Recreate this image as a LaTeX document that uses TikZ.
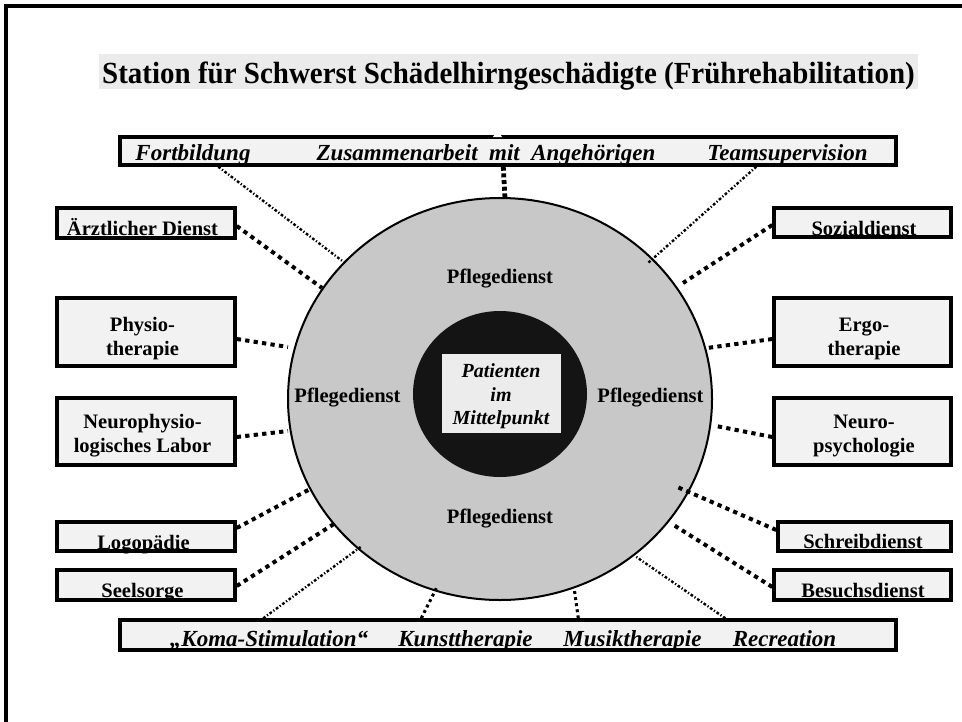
\documentclass[tikz,border=0pt]{standalone}
\usepackage{graphicx}
\usepackage{fontspec}
\setmainfont{Liberation Serif}
\usetikzlibrary{calc,fit,shapes.geometric}
\definecolor{boxfill}{HTML}{F2F2F2}
\definecolor{titlebg}{HTML}{EBEBEB}
\definecolor{ringgray}{HTML}{C8C8C8}
\definecolor{corefill}{HTML}{141414}
\definecolor{centerfill}{HTML}{ECECEC}
\begin{document}
\begin{tikzpicture}[x=0.75pt,y=-0.75pt,
  box/.style={draw=black, line width=2.6pt, fill=boxfill, inner sep=0pt, rectangle},
  lbl/.style={font=\fontsize{15.4}{18}\selectfont\bfseries, anchor=base, inner sep=0pt},
  itl/.style={font=\fontsize{17.25}{20}\selectfont\bfseries\itshape, anchor=base, inner sep=0pt},
  ctr/.style={font=\fontsize{15}{18}\selectfont\bfseries\itshape, anchor=base, inner sep=0pt},
  thickdot/.style={line width=3pt, dash pattern=on 3.2pt off 3.2pt},
  thindot/.style={line width=1.8pt, dash pattern=on 2pt off 1.5pt on 0.9pt off 1.5pt},
  middot/.style={line width=2.3pt, dash pattern=on 2.2pt off 2.4pt},
  vertdot/.style={line width=3.6pt, dash pattern=on 3pt off 2pt},
]
\useasboundingbox (0,0) rectangle (962,721);
\clip (0,0) rectangle (962,721);
% frame
\draw[line width=3pt] (6,760) -- (6,6) -- (1000,6);
% title
\fill[titlebg] (99,54) rectangle (918,89);
\node[anchor=base, inner sep=0pt, font=\fontsize{23}{27}\selectfont\bfseries] (title) at (508.5,83) {\scalebox{0.945}[1]{Station für Schwerst Schädelhirngeschädigte (Frührehabilitation)}};
% rings
\node[ellipse, draw=black, line width=1.5pt, fill=ringgray, minimum width=318pt, minimum height=301.5pt, inner sep=0pt] (outer) at (500,399) {};
\node[ellipse, fill=corefill, minimum width=130.5pt, minimum height=124.5pt, inner sep=0pt] (inner) at (500,394) {};
\node[fill=centerfill, inner sep=0pt, fit={(442,354) (561,433)}] (pbox) {};
\node[ctr] (pt1) at (501,377) {Patienten};
\node[ctr] (pt2) at (501,401) {im};
\node[ctr] (pt3) at (501,424) {Mittelpunkt};
% Pflegedienst labels
\node[lbl] (pfl-top) at (500,283) {Pflegedienst};
\node[lbl] (pfl-left) at (347.5,402) {Pflegedienst};
\node[lbl] (pfl-right) at (650.5,402) {Pflegedienst};
\node[lbl] (pfl-bot) at (500,523) {Pflegedienst};
% boxes
\node[box, fit={(120,137) (896,165)}] (top) {};
\node[box, fit={(120,620) (896,650)}] (bottom) {};
\node[box, fit={(57,208) (235,238)}] (aerzt) {};
\node[box, fit={(57,298) (235,366)}] (physio) {};
\node[box, fit={(57,398) (235,465)}] (neuro) {};
\node[box, fit={(57,522) (235,551)}] (logo) {};
\node[box, fit={(57,570) (235,600)}] (seel) {};
\node[box, fit={(774,208) (951,237)}] (sozial) {};
\node[box, fit={(774,298) (951,366)}] (ergo) {};
\node[box, fit={(774,398) (951,465)}] (npsych) {};
\node[box, fit={(778,522) (951,551)}] (schreib) {};
\node[box, fit={(774,570) (951,600)}] (besuch) {};
% small white notch on top box
\fill[white] (493,137) -- (502,137) -- (497.5,130) -- cycle;
% circle end points
\coordinate (c-fort) at (345,263);
\coordinate (c-zus) at (505,198);
\coordinate (c-team) at (648,263);
\coordinate (c-aerzt) at (322,288);
\coordinate (c-sozial) at (683,283);
\coordinate (c-physio) at (288,347);
\coordinate (c-ergo) at (707,348);
\coordinate (c-neuro) at (288,431);
\coordinate (c-npsych) at (716,426);
\coordinate (c-logo) at (312,488);
\coordinate (c-schreib) at (675,486);
\coordinate (c-seel) at (337,522);
\coordinate (c-besuch) at (672,524);
\coordinate (c-koma) at (362,546);
\coordinate (c-kunst) at (437,587);
\coordinate (c-musik) at (574,587);
\coordinate (c-recre) at (635,556);
% connectors
\draw[thindot] ($(top.south west)+(100,0)$) -- (c-fort);
\draw[vertdot] ($(top.south west)+(385,0)$) -- (c-zus);
\draw[thindot] ($(top.south west)+(638,0)$) -- (c-team);
\draw[thickdot] ($(aerzt.east)+(0,3)$) -- (c-aerzt);
\draw[thickdot] ($(physio.east)+(0,7)$) -- (c-physio);
\draw[thickdot] ($(neuro.east)+(0,5.5)$) -- (c-neuro);
\draw[thickdot] ($(logo.east)+(0,-8.5)$) -- (c-logo);
\draw[thickdot] ($(seel.east)+(0,1)$) -- (c-seel);
\draw[thickdot] ($(sozial.west)+(0,2.5)$) -- (c-sozial);
\draw[thickdot] ($(ergo.west)+(0,7)$) -- (c-ergo);
\draw[thickdot] ($(npsych.west)+(0,5.5)$) -- (c-npsych);
\draw[thickdot] ($(schreib.west)+(0,-6.5)$) -- (c-schreib);
\draw[thickdot] ($(besuch.west)+(0,2)$) -- (c-besuch);
\draw[thindot] ($(bottom.north west)+(145,0)$) -- (c-koma);
\draw[middot] ($(bottom.north west)+(303,0)$) -- (c-kunst);
\draw[middot] ($(bottom.north west)+(460,0)$) -- (c-musik);
\draw[thindot] ($(bottom.north west)+(607,0)$) -- (c-recre);
% top box texts
\node[itl] (t-fort) at (193,160) {Fortbildung};
\node[itl] (t-zus) at (486,160) {Zusammenarbeit~ mit~ Angehörigen};
\node[itl] (t-team) at (787.5,160) {Teamsupervision};
% bottom box texts
\node[itl] (t-koma) at (269,646) {„Koma-Stimulation“};
\node[itl] (t-kunst) at (465.5,646) {Kunsttherapie};
\node[itl] (t-musik) at (632.5,646) {Musiktherapie};
\node[itl] (t-recre) at (784.5,646) {Recreation};
% left box texts
\node[lbl] (t-aerzt) at (142.5,235) {Ärztlicher Dienst};
\node[lbl] (t-physio1) at (142.5,331) {Physio-};
\node[lbl] (t-physio2) at (142.5,355) {therapie};
\node[lbl] (t-neuro1) at (142.5,428) {Neurophysio-};
\node[lbl] (t-neuro2) at (142.5,452) {logisches Labor};
\node[lbl] (t-logo) at (143.5,549) {Logopädie};
\node[lbl] (t-seel) at (142.5,597) {Seelsorge};
% right box texts
\node[lbl] (t-sozial) at (864,235) {Sozialdienst};
\node[lbl] (t-ergo1) at (864,331) {Ergo-};
\node[lbl] (t-ergo2) at (864,355) {therapie};
\node[lbl] (t-npsych1) at (864,428) {Neuro-};
\node[lbl] (t-npsych2) at (864,452) {psychologie};
\node[lbl] (t-schreib) at (863,548) {Schreibdienst};
\node[lbl] (t-besuch) at (863,597) {Besuchsdienst};
\end{tikzpicture}
\end{document}
